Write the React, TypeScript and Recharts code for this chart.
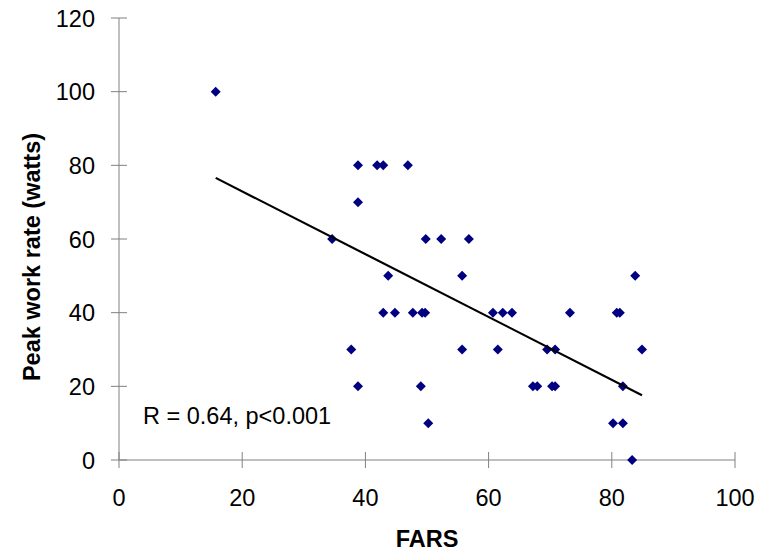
import React from 'react';
import { ScatterChart, Scatter, XAxis, YAxis, Customized } from 'recharts';

const farsScores = [
  15.7, 34.6, 38.8, 38.8, 37.7, 38.8, 41.9, 42.9, 46.9, 43.7,
  42.9, 44.8, 47.7, 49.2, 49.7, 49.0, 50.2, 49.8, 52.3, 56.8,
  55.7, 55.7, 60.7, 62.3, 63.8, 61.5, 73.2, 80.8, 81.3, 83.8,
  69.5, 70.8, 84.9, 67.2, 67.9, 70.3, 70.8, 81.8, 80.2, 81.8, 83.3,
];
const peakWork = [
  100, 60, 80, 70, 30, 20, 80, 80, 80, 50,
  40, 40, 40, 40, 40, 20, 10, 60, 60, 60,
  50, 30, 40, 40, 40, 30, 40, 40, 40, 50,
  30, 30, 30, 20, 20, 20, 20, 20, 10, 10, 0,
];

// fitted line, endpoints
const fitFars = [15.7, 84.9];
const fitWork = [76.6, 17.6];

const xTicks = [0, 20, 40, 60, 80, 100];
const yTicks = [0, 20, 40, 60, 80, 100, 120];

const points = farsScores.map((x, i) => ({ x, y: peakWork[i] }));
const fitLine = fitFars.map((x, i) => ({ x, y: fitWork[i] }));

const FONT = '"Liberation Sans", Arial, sans-serif';
const AXIS = '#808080';

const Diamond = (props: any) => {
  const { cx, cy } = props;
  const r = 5;
  return (
    <polygon
      points={`${cx},${cy - r} ${cx + r},${cy} ${cx},${cy + r} ${cx - r},${cy}`}
      fill="#000080"
    />
  );
};

const YTick = (props: any) => {
  const { x, y, payload } = props;
  const ax = x + 16 + 8;
  return (
    <g>
      <line x1={ax - 8} x2={ax + 8} y1={y} y2={y} stroke={AXIS} strokeWidth={1} />
      <text x={x} y={y + 8.5} textAnchor="end" fontFamily={FONT} fontSize={23.5} fill="#000">
        {payload.value}
      </text>
    </g>
  );
};

const XTick = (props: any) => {
  const { x, y, payload } = props;
  const ay = y - 6 - 8;
  return (
    <g>
      <line x1={x} x2={x} y1={ay - 8} y2={ay + 8} stroke={AXIS} strokeWidth={1} />
      <text x={x} y={ay + 46} textAnchor="middle" fontFamily={FONT} fontSize={23.5} fill="#000">
        {payload.value}
      </text>
    </g>
  );
};

const Texts = () => (
  <g>
    <text x={143} y={424} fontFamily={FONT} fontSize={23.5} fill="#000">
      R = 0.64, p&lt;0.001
    </text>
    <text x={427} y={547} textAnchor="middle" fontFamily={FONT} fontSize={23.5} fontWeight="bold" fill="#000">
      FARS
    </text>
    <text
      x={40}
      y={257}
      textAnchor="middle"
      transform="rotate(-90 40 257)"
      fontFamily={FONT}
      fontSize={23.5}
      fontWeight="bold"
      fill="#000"
    >
      Peak work rate (watts)
    </text>
  </g>
);

export default function App() {
  return (
    <div style={{ position: 'absolute', left: 0, top: 0, background: '#fff' }}>
      <ScatterChart width={762} height={551} margin={{ top: 18, right: 27, left: 0, bottom: 0 }}>
        <XAxis
          type="number"
          dataKey="x"
          domain={[0, 100]}
          ticks={xTicks}
          interval={0}
          height={91}
          stroke={AXIS}
          tickLine={false}
          tickSize={8}
          tickMargin={6}
          tick={<XTick />}
        />
        <YAxis
          type="number"
          dataKey="y"
          domain={[0, 120]}
          ticks={yTicks}
          interval={0}
          width={119}
          stroke={AXIS}
          tickLine={false}
          tickSize={8}
          tickMargin={16}
          tick={<YTick />}
        />
        <Scatter data={points} shape={<Diamond />} isAnimationActive={false} />
        <Scatter
          data={fitLine}
          line={{ stroke: '#000', strokeWidth: 2.2 }}
          shape={() => null}
          isAnimationActive={false}
        />
        <Customized component={Texts} />
      </ScatterChart>
    </div>
  );
}
